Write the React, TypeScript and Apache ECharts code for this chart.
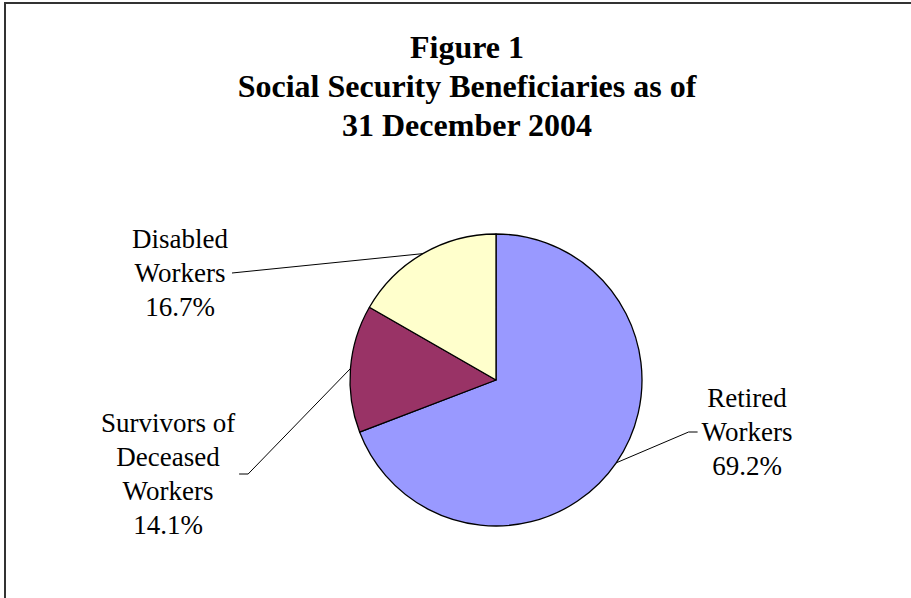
import React, { useEffect, useRef } from "react";
import * as echarts from "echarts";

const titleLines = ["Figure 1", "Social Security Beneficiaries as of", "31 December 2004"];
const categories = ["Retired Workers", "Survivors of Deceased Workers", "Disabled Workers"];
const labelTexts = ["Retired\nWorkers", "Survivors of\nDeceased\nWorkers", "Disabled\nWorkers"];
const shares = [69.2, 14.1, 16.7];
const colors = ["#9999FF", "#993366", "#FFFFCC"];
// label block centers (x, y)
const labelAnchors = [
  [747, 432],
  [168, 474],
  [180, 273],
];
const FONT = "Liberation Serif";

export default function App() {
  const ref = useRef<HTMLDivElement>(null);
  useEffect(() => {
    if (!ref.current) return;
    const chart = echarts.init(ref.current, null, { renderer: "svg" });
    chart.setOption({
      animation: false,
      backgroundColor: "#ffffff",
      textStyle: { fontFamily: FONT },
      graphic: [
        {
          type: "rect",
          shape: { x: 5, y: 3, width: 1000, height: 700 },
          style: { fill: "none", stroke: "#333333", lineWidth: 2 },
          silent: true,
        },
        {
          type: "text",
          x: 467,
          y: 86,
          style: {
            text: titleLines.join("\n"),
            fontFamily: FONT,
            fontSize: 32,
            fontWeight: "bold",
            lineHeight: 39,
            fill: "#000000",
            align: "center",
            verticalAlign: "middle",
          },
        },
      ],
      series: [
        {
          type: "pie",
          center: [496, 380],
          radius: 146,
          startAngle: 90,
          clockwise: true,
          avoidLabelOverlap: false,
          data: categories.map((name, i) => ({
            name,
            value: shares[i],
            itemStyle: { color: colors[i] },
          })),
          itemStyle: { borderColor: "#000000", borderWidth: 1.3 },
          label: {
            show: true,
            position: "outside",
            formatter: (p: any) => `${labelTexts[p.dataIndex]}\n${shares[p.dataIndex].toFixed(1)}%`,
            fontFamily: FONT,
            fontSize: 27,
            lineHeight: 34,
            color: "#000000",
            align: "center",
          },
          labelLine: {
            show: true,
            lineStyle: { color: "#000000", width: 1 },
          },
          labelLayout: (params: any) => {
            const i = params.dataIndex;
            const [ax, ay] = labelAnchors[i];
            const pts = params.labelLinePoints;
            const edge = pts ? pts[0] : [ax, ay];
            const w = params.labelRect ? params.labelRect.width : 100;
            let bend: number[];
            let end: number[];
            if (ax > 496) {
              const ex = ax - w / 2 - 4;
              end = [ex, ay];
              bend = [ex - 9, ay];
            } else {
              const ex = ax + w / 2 + 4;
              end = [ex, ay];
              bend = i === 2 ? [ex + 2, ay - 0.2] : [ex + 9, ay];
            }
            return {
              x: ax,
              y: ay,
              align: "center",
              verticalAlign: "middle",
              labelLinePoints: [edge, bend, end],
            };
          },
        },
      ],
    });
    return () => chart.dispose();
  }, []);
  return (
    <div
      ref={ref}
      style={{ position: "fixed", left: 0, top: 0, width: 911, height: 598, background: "#fff" }}
    />
  );
}
